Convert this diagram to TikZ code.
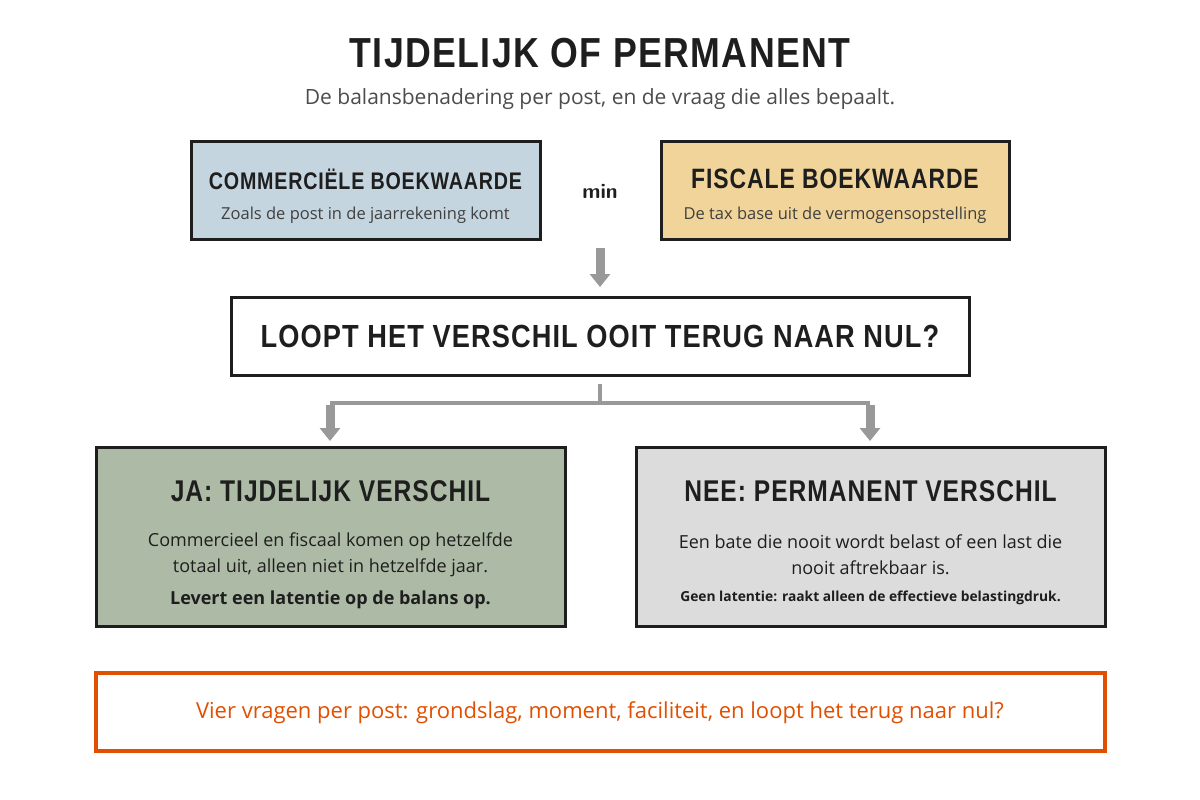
\documentclass[tikz,border=0pt]{standalone}
\usepackage{fontspec}
\setmainfont{Open Sans}
\newfontfamily\titlefont[LetterSpace=4]{Liberation Sans}
\usetikzlibrary{arrows.meta}
\definecolor{dark}{HTML}{1E1E1E}
\definecolor{blueb}{HTML}{C5D5E0}
\definecolor{sandb}{HTML}{F0D49A}
\definecolor{greenb}{HTML}{ADBBA6}
\definecolor{greyb}{HTML}{DCDCDC}
\definecolor{orng}{HTML}{E05000}
\definecolor{arr}{HTML}{999999}
\begin{document}
\begin{tikzpicture}[x=1pt,y=-1pt,
  box/.style={draw=dark,line width=3pt},
  hd/.style={font=\titlefont\bfseries\fontsize{#1}{#1}\selectfont,text=dark},
  garrow/.style={draw=arr,line width=9pt,-{Triangle[width=20pt,length=13pt]}},
  gline/.style={draw=arr,line width=4pt}]
\useasboundingbox (0,0) rectangle (1200,800);
\node[hd=42,xscale=0.85] (title) at (600,53) {TIJDELIJK OF PERMANENT};
\node[font=\fontsize{21}{21}\selectfont,text=black!70] (sub) at (600,99) {De balansbenadering per post, en de vraag die alles bepaalt.};
\draw[box,fill=blueb] (191,141) rectangle (540,239);
\node[hd=24,xscale=0.82] (c1) at (365.5,179) {COMMERCIËLE BOEKWAARDE};
\node[font=\fontsize{16.5}{16}\selectfont,text=black!75] (c2) at (365.5,215) {Zoals de post in de jaarrekening komt};
\node[font=\sffamily\bfseries\fontsize{21}{21}\selectfont,text=dark] (min) at (600,191) {min};
\draw[box,fill=sandb] (661,141) rectangle (1009,239);
\node[hd=28,xscale=0.82] (f1) at (835,179) {FISCALE BOEKWAARDE};
\node[font=\fontsize{16.5}{16}\selectfont,text=black!75] (f2) at (835,215) {De tax base uit de vermogensopstelling};
\coordinate (a1) at (600,248); \coordinate (a2) at (600,287);
\draw[garrow] (a1) -- (a2);
\draw[box,fill=white] (231,297) rectangle (969,375);
\node[hd=32,xscale=0.85] (q) at (600,336) {LOOPT HET VERSCHIL OOIT TERUG NAAR NUL?};
\coordinate (s) at (600,384); \coordinate (m) at (600,403);
\coordinate (l) at (330,403); \coordinate (r) at (870,403);
\coordinate (l2) at (330,441); \coordinate (r2) at (870,441);
\draw[gline] (s) -- (m);
\draw[gline] (l) -- (r);
\draw[garrow] ([yshift=-2pt]l) -- (l2);
\draw[garrow] ([yshift=-2pt]r) -- (r2);
\draw[box,fill=greenb] (96,447) rectangle (565,626);
\node[hd=30,xscale=0.82] (j1) at (330.5,491) {JA: TIJDELIJK VERSCHIL};
\node[font=\fontsize{18}{26}\selectfont,text=dark,align=center] (j2) at (330.5,555) {Commercieel en fiscaal komen op hetzelfde\\totaal uit, alleen niet in hetzelfde jaar.};
\node[font=\bfseries\fontsize{18}{18}\selectfont,text=dark] (j3) at (330.5,600) {Levert een latentie op de balans op.};
\draw[box,fill=greyb] (636,447) rectangle (1105,626);
\node[hd=30,xscale=0.82] (n1) at (870.5,491) {NEE: PERMANENT VERSCHIL};
\node[font=\fontsize{18}{26}\selectfont,text=dark,align=center] (n2) at (870.5,555) {Een bate die nooit wordt belast of een last die\\nooit aftrekbaar is.};
\node[font=\bfseries\fontsize{13.8}{13}\selectfont,text=dark] (n3) at (870.5,598) {Geen latentie: raakt alleen de effectieve belastingdruk.};
\draw[draw=orng,line width=3.5pt,fill=white] (96,673) rectangle (1105,751);
\node[font=\fontsize{22}{22}\selectfont,text=orng] (b) at (600,713) {Vier vragen per post: grondslag, moment, faciliteit, en loopt het terug naar nul?};
\end{tikzpicture}
\end{document}
